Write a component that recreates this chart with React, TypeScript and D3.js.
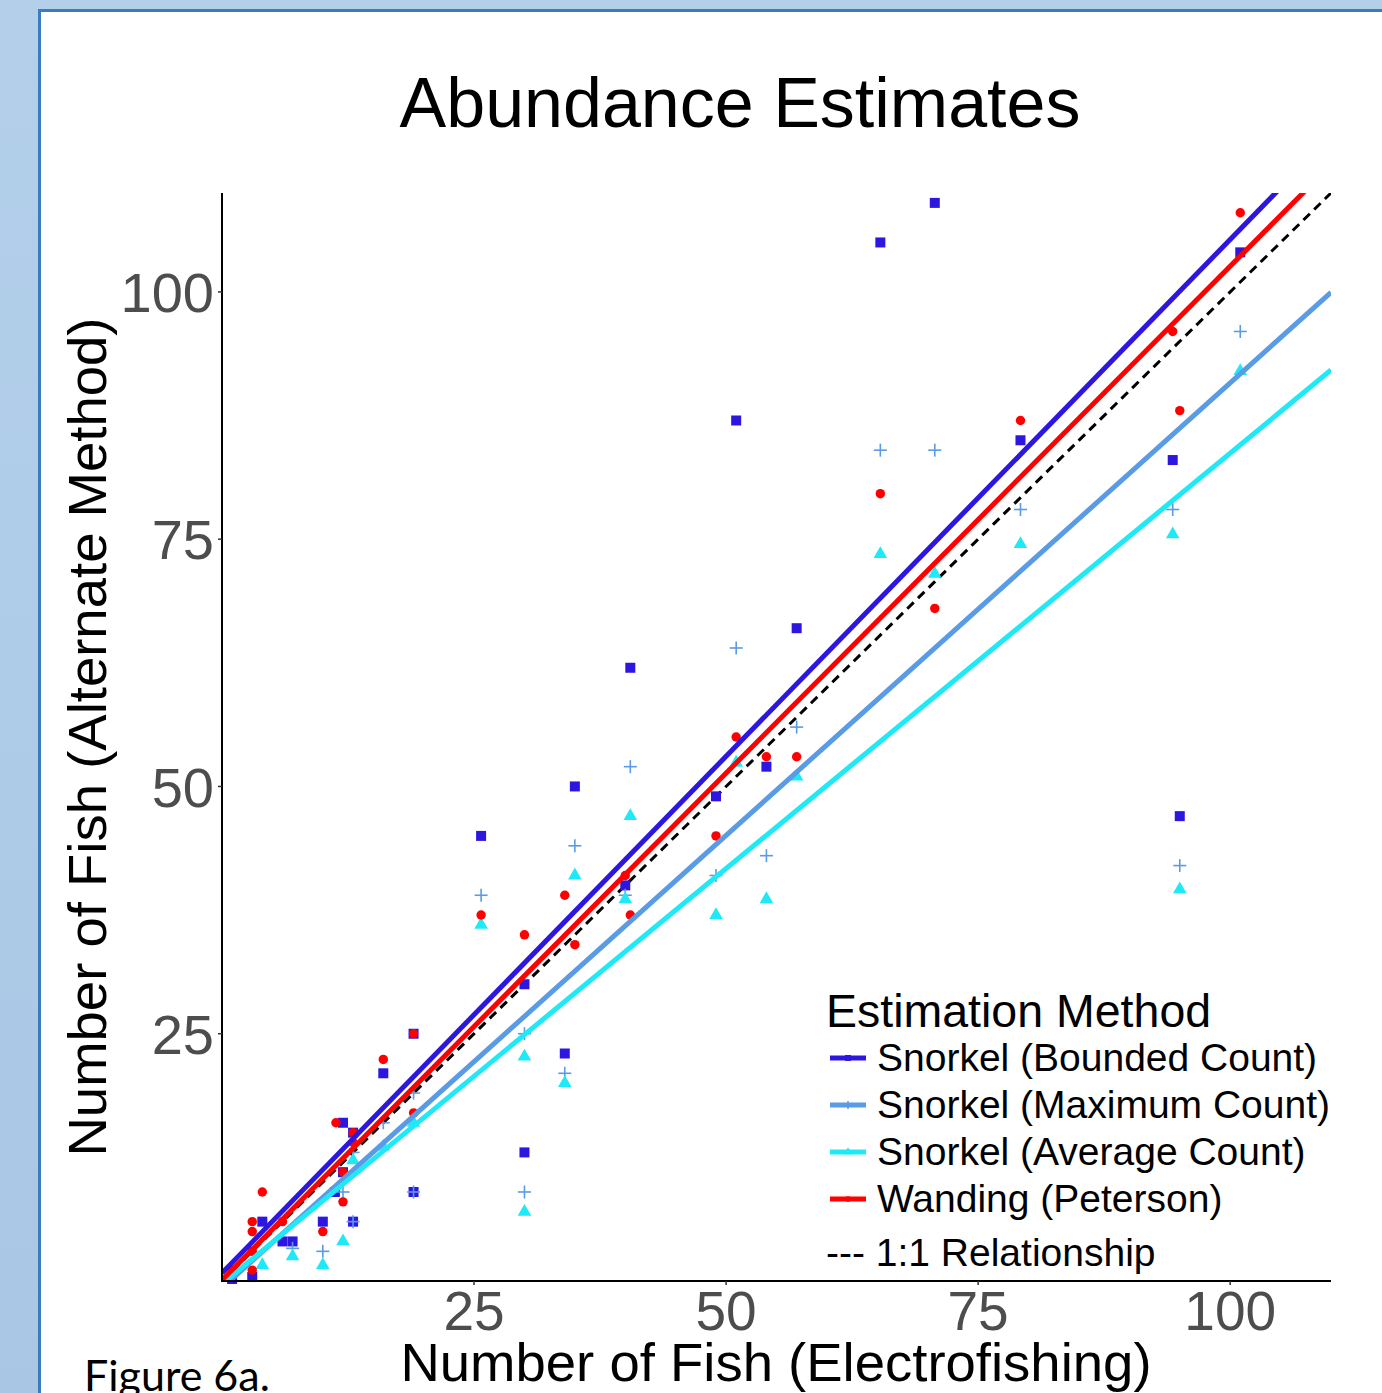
import React from "react";
import * as d3 from "d3";

// estimates per method (x = electrofishing count)
const boundedX = [1, 3, 4, 6, 7, 10, 11.2, 12, 12, 13, 13, 16, 19, 19, 25.7, 30, 30, 34, 35, 40, 40.5, 49, 51, 54, 57, 65.3, 70.7, 79.2, 94.3, 95, 101];
const boundedY = [0.2, 0.4, 6, 4, 4, 6, 9, 16, 11, 15, 6, 21, 25, 9, 45, 30, 13, 23, 50, 40, 62, 49, 87, 52, 66, 105, 109, 85, 83, 47, 104];

const maximumX = [7, 10, 12, 13, 13, 16, 19, 19, 25.7, 30, 30, 34, 35, 40, 40.5, 49, 51, 54, 57, 65.3, 70.7, 79.2, 94.3, 95, 101];
const maximumY = [3.3, 3, 9, 6, 13, 16, 19, 9, 39, 25, 9, 21, 44, 39, 52, 41, 64, 43, 56, 84, 84, 78, 78, 42, 96];

const averageX = [4, 7, 10, 12, 13, 16, 19, 25.7, 30, 30, 34, 35, 40, 40.5, 49, 51, 54, 57, 65.3, 70.7, 79.2, 94.3, 95, 101];
const averageY = [1.6, 2.5, 1.6, 4, 12.2, 13.6, 16, 36, 22.7, 7, 20, 41, 38.6, 47, 37, 52.4, 38.6, 51, 73.5, 71.5, 74.5, 75.5, 39.6, 92];

const wandingX = [1, 3, 3, 3, 3, 4, 6, 10, 11.3, 12, 12, 13, 13, 16, 19, 19, 25.7, 30, 34, 35, 40, 40.5, 49, 51, 54, 57, 65.3, 70.7, 79.2, 94.3, 95, 101];
const wandingY = [1.1, 1.1, 3, 5, 6, 9, 6, 5, 16, 11, 8, 15, 14, 22.4, 25, 17, 37, 35, 39, 34, 41, 37, 45, 55, 53, 53, 79.6, 68, 87, 96, 88, 108];

const methods = ["Snorkel (Bounded Count)", "Snorkel (Maximum Count)", "Snorkel (Average Count)", "Wanding (Peterson)"];
const colors = ["#2c16e0", "#5a9be6", "#1fe9f7", "#ff0000"];
const fitIntercepts = [0.8, -0.7, -0.3, 0.1];
const fitSlopes = [1.045, 0.915, 0.84, 1.025];

const xTicks = [25, 50, 75, 100];
const yTicks = [25, 50, 75, 100];

const W = 1382;
const H = 1393;
const left = 222, right = 1331, top = 193, bottom = 1281;

const x = d3.scaleLinear().domain([0, 110]).range([left, right]);
const y = d3.scaleLinear().domain([0, 110]).range([bottom, top]);

const sym = (type, size) => d3.symbol().type(type).size(size)();
const squarePath = sym(d3.symbolSquare, 100);
const circlePath = sym(d3.symbolCircle, 70);
const trianglePath = sym(d3.symbolTriangle, 80);

const Plus = ({ cx, cy, color, r = 6.5 }) => (
  <g stroke={color} strokeWidth={1.6}>
    <line x1={cx - r} x2={cx + r} y1={cy} y2={cy} />
    <line x1={cx} x2={cx} y1={cy - r} y2={cy + r} />
  </g>
);

const series = [
  { xs: boundedX, ys: boundedY, shape: "square" },
  { xs: maximumX, ys: maximumY, shape: "plus" },
  { xs: averageX, ys: averageY, shape: "triangle" },
  { xs: wandingX, ys: wandingY, shape: "circle" },
];

const marker = (shape, cx, cy, color, key, scale = 1) => {
  if (shape === "plus") return <Plus key={key} cx={cx} cy={cy} color={color} r={6.5 * scale} />;
  const p = shape === "square" ? squarePath : shape === "circle" ? circlePath : trianglePath;
  return <path key={key} d={p} transform={`translate(${cx},${cy}) scale(${scale})`} fill={color} />;
};

const font = "'Liberation Sans', Arial, Helvetica, sans-serif";

export default function App() {
  const fitLine = d3.line().x(d => x(d[0])).y(d => y(d[1]));
  const legendX = 826;
  const legendRows = [1058, 1105, 1152, 1199];

  return (
    <svg width={W} height={H} style={{ position: "absolute", left: 0, top: 0, display: "block" }} fontFamily={font}>
      <defs>
        <linearGradient id="bg" x1="0" y1="0" x2="0" y2="1">
          <stop offset="0" stopColor="#b3cfea" />
          <stop offset="1" stopColor="#a9c7e5" />
        </linearGradient>
        <clipPath id="plotArea">
          <rect x={left} y={top} width={right - left} height={bottom - top} />
        </clipPath>
      </defs>
      <rect width={W} height={H} fill="url(#bg)" />
      <rect x={39.5} y={10.5} width={W} height={H} fill="#fff" stroke="#3b7cc0" strokeWidth={3} />

      <text x={740} y={127} textAnchor="middle" fontSize={70} fill="#000">Abundance Estimates</text>

      {/* 1:1 reference */}
      <path d={fitLine([[0, 0], [110, 110]])} stroke="#000" strokeWidth={3} strokeDasharray="9,6" fill="none" clipPath="url(#plotArea)" />

      {/* points */}
      {series.map((s, si) => (
        <g key={si}>
          {s.xs.map((xv, i) => marker(s.shape, x(xv), y(s.ys[i]), colors[si], i))}
        </g>
      ))}

      {/* fitted lines */}
      <g clipPath="url(#plotArea)">
        {methods.map((m, i) => (
          <path key={m} d={fitLine([[0, fitIntercepts[i]], [110, fitIntercepts[i] + fitSlopes[i] * 110]])}
            stroke={colors[i]} strokeWidth={5} fill="none" />
        ))}
      </g>

      {/* axes */}
      <line x1={left} x2={left} y1={top} y2={bottom + 1} stroke="#000" strokeWidth={2} />
      <line x1={left - 1} x2={right} y1={bottom} y2={bottom} stroke="#000" strokeWidth={2} />
      {xTicks.map(t => (
        <g key={t}>
          <line x1={x(t)} x2={x(t)} y1={bottom} y2={bottom + 4} stroke="#333" strokeWidth={1.5} />
          <text x={x(t)} y={1330} textAnchor="middle" fontSize={55} fill="#4d4d4d">{t}</text>
        </g>
      ))}
      {yTicks.map(t => (
        <g key={t}>
          <line x1={left - 4} x2={left} y1={y(t)} y2={y(t)} stroke="#333" strokeWidth={1.5} />
          <text x={214} y={y(t)} dy="0.36em" textAnchor="end" fontSize={56} fill="#4d4d4d">{t}</text>
        </g>
      ))}

      <text x={776} y={1381} textAnchor="middle" fontSize={54.5} fill="#000">Number of Fish (Electrofishing)</text>
      <text transform={`translate(106,737) rotate(-90)`} textAnchor="middle" fontSize={54.5} fill="#000">Number of Fish (Alternate Method)</text>

      {/* legend */}
      <text x={legendX} y={1027} fontSize={46.5} fill="#000">Estimation Method</text>
      {methods.map((m, i) => (
        <g key={m}>
          <line x1={830} x2={866} y1={legendRows[i]} y2={legendRows[i]} stroke={colors[i]} strokeWidth={5} />
          {marker(series[i].shape, 848, legendRows[i], colors[i], "k", 0.6)}
          <text x={877} y={legendRows[i] + 13} fontSize={39} fill="#000">{m}</text>
        </g>
      ))}
      <text x={legendX} y={1266} fontSize={39} fill="#000">--- 1:1 Relationship</text>

      <text x={84} y={1391} fontSize={43} fill="#000" fontFamily="Lato, 'Open Sans', sans-serif">Figure 6a.</text>
    </svg>
  );
}
